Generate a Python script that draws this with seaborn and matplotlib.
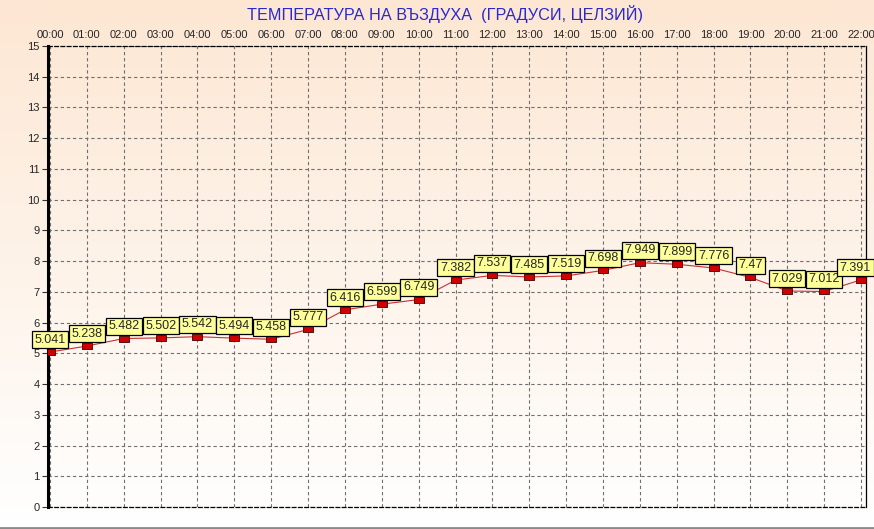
import numpy as np
import pandas as pd
import matplotlib.pyplot as plt
import seaborn as sns

hours = ["00:00", "01:00", "02:00", "03:00", "04:00", "05:00", "06:00", "07:00",
         "08:00", "09:00", "10:00", "11:00", "12:00", "13:00", "14:00", "15:00",
         "16:00", "17:00", "18:00", "19:00", "20:00", "21:00", "22:00"]
temps = [5.041, 5.238, 5.482, 5.502, 5.542, 5.494, 5.458, 5.777,
         6.416, 6.599, 6.749, 7.382, 7.537, 7.485, 7.519, 7.698,
         7.949, 7.899, 7.776, 7.47, 7.029, 7.012, 7.391]
labels = ["5.041", "5.238", "5.482", "5.502", "5.542", "5.494", "5.458", "5.777",
          "6.416", "6.599", "6.749", "7.382", "7.537", "7.485", "7.519", "7.698",
          "7.949", "7.899", "7.776", "7.47", "7.029", "7.012", "7.391"]

df = pd.DataFrame({"x": np.arange(len(hours)), "t": temps})

sns.set_style("white")
plt.rcParams['font.family'] = ['Liberation Sans', 'DejaVu Sans']

fig = plt.figure(figsize=(8.74, 5.29), dpi=100)

# background gradient peach -> white
bg = fig.add_axes([0, 0, 1, 1], zorder=-10)
grad = np.linspace(0, 1, 256).reshape(-1, 1)
top = np.array([253, 231, 211]) / 255
bot = np.array([255, 255, 255]) / 255
img = top + (bot - top) * grad[:, :, None]
bg.imshow(img, aspect="auto", extent=[0, 1, 0, 1])
bg.axis("off")
bg.plot([0, 1], [0.6 / 529, 0.6 / 529], color="#8a8a8a", lw=2, transform=bg.transAxes)

ax = fig.add_axes([48 / 874, 1 - 507 / 529, 818 / 874, 461 / 529])
ax.patch.set_alpha(0)

sns.lineplot(data=df, x="x", y="t", ax=ax, color="#c83030", lw=0.8, zorder=3)
marker = [(-1.7, -1), (1.7, -1), (1.7, 1), (-1.7, 1), (-1.7, -1)]
sns.scatterplot(data=df, x="x", y="t", ax=ax, marker=marker, s=60,
                color="#d00000", edgecolor="#400000", linewidth=0.6, zorder=4)

for i, (v, lab) in enumerate(zip(temps, labels)):
    dx = -4 if i == len(temps) - 1 else 0
    ax.annotate(lab, (i, v), xytext=(dx, 4.5), textcoords="offset points",
                ha="center", va="bottom", fontsize=9, zorder=5,
                bbox=dict(boxstyle="square,pad=0.2", fc="#ffff99", ec="black", lw=0.9))

ax.set_xlim(-0.054, 22.135)
ax.set_ylim(0, 15)
ax.set_xticks(range(len(hours)))
ax.set_xticklabels(hours, fontsize=8)
ax.xaxis.tick_top()
ax.set_yticks(range(16))
ax.set_yticklabels([str(i) for i in range(16)], fontsize=8)
ax.tick_params(axis="y", length=4, width=0.8, color="#333333", pad=2, left=True)
ax.tick_params(axis="x", length=0, pad=4, top=True)
ax.set_xlabel("")
ax.set_ylabel("")
ax.grid(True, ls=(0, (3, 2.5)), color="#707070", lw=0.8)

for s in ["top", "right", "bottom"]:
    ax.spines[s].set_color("black")
    ax.spines[s].set_linewidth(0.9)
ax.spines["top"].set_linestyle((0, (3, 2)))
ax.spines["bottom"].set_linestyle((0, (3, 2)))
ax.spines["left"].set_color("black")
ax.spines["left"].set_linewidth(2.2)

fig.text(445 / 874, 1 - 14 / 529, "ТЕМПЕРАТУРА НА ВЪЗДУХА  (ГРАДУСИ, ЦЕЛЗИЙ)",
         ha="center", va="center", fontsize=11.7, color="#2a2acc")

fig.savefig("out.png", dpi=100)
